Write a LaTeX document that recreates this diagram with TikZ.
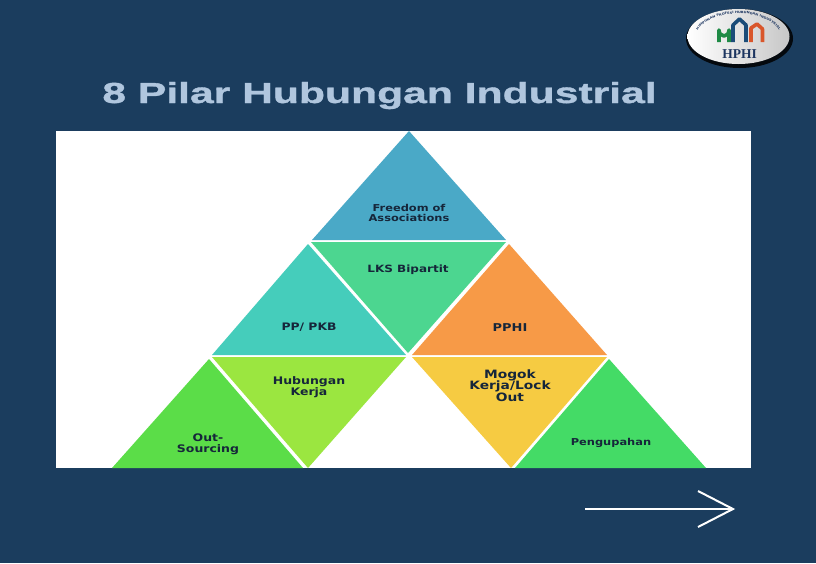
\documentclass[tikz,border=0pt]{standalone}
\usepackage{fontspec}
\setmainfont[FakeStretch=1.2]{DejaVu Sans}
\newfontfamily\titlefont[FakeStretch=1.47,BoldFeatures={FakeStretch=1.47,FakeBold=1.2}]{Liberation Sans}
\newfontfamily\logofont{Liberation Serif}
\usetikzlibrary{decorations.text,shadings}
\definecolor{bgnavy}{HTML}{1B3D5E}
\definecolor{titleblue}{HTML}{B0C6DE}
\definecolor{labelink}{HTML}{16263A}
\definecolor{cfreedom}{HTML}{4AA9C7}
\definecolor{clks}{HTML}{4CD690}
\definecolor{cpp}{HTML}{45CDBB}
\definecolor{cpphi}{HTML}{F79A47}
\definecolor{chub}{HTML}{9BE640}
\definecolor{cout}{HTML}{5BDD48}
\definecolor{cmogok}{HTML}{F6CB42}
\definecolor{cpeng}{HTML}{44DB66}
\definecolor{logogreen}{HTML}{1E8A45}
\definecolor{logoblue}{HTML}{1B4C78}
\definecolor{logoorange}{HTML}{D9562B}
\definecolor{logonavy}{HTML}{1C3560}
\tikzset{
  tri/.style={fill=#1,draw=none},
  lab/.style 2 args={font=\bfseries\fontsize{#1}{#2}\selectfont,text=labelink,align=center,inner sep=0pt},
  arch/.style={line width=3.6pt,line cap=butt,line join=round},
}
\begin{document}
\begin{tikzpicture}[x=1pt,y=-1pt]
\useasboundingbox (0,0) rectangle (816,563);
\fill[bgnavy] (0,0) rectangle (816,563);
% title
\node[font=\titlefont\bfseries\fontsize{29}{32}\selectfont,text=titleblue,inner sep=0pt,anchor=base] (title) at (379.5,103) {8 Pilar Hubungan Industrial};
% panel
\fill[white] (56,131) rectangle (751,468);
% triangles
\fill[tri=cfreedom] (409,131) -- (506,240) -- (312,240) -- cycle;
\fill[tri=clks] (311,242) -- (506,242) -- (408,353) -- cycle;
\fill[tri=cpp] (308,244) -- (406,355) -- (212,355) -- cycle;
\fill[tri=cpphi] (509,244) -- (607,355) -- (412,355) -- cycle;
\fill[tri=chub] (212,357) -- (406,357) -- (308,468) -- cycle;
\fill[tri=cout] (209,359) -- (303,468) -- (112,468) -- cycle;
\fill[tri=cmogok] (412,357) -- (607,357) -- (511,468) -- cycle;
\fill[tri=cpeng] (609,359) -- (706,468) -- (515,468) -- cycle;
% labels
\node[lab={9.5}{10}] (freedom) at (409,213) {Freedom of\\Associations};
\node[lab={10}{11}] (lks) at (408,270) {LKS Bipartit};
\node[lab={10.3}{11}] (pp) at (309,327.5) {PP/ PKB};
\node[lab={10.8}{11}] (pphi) at (510,327.5) {PPHI};
\node[lab={10.4}{11}] (hub) at (309,387) {Hubungan\\Kerja};
\node[lab={10.4}{11}] (outs) at (208,444) {Out-\\Sourcing};
\node[lab={11.5}{11.5}] (mogok) at (510,385.5) {Mogok\\Kerja/Lock\\Out};
\node[lab={9.5}{11}] (peng) at (611,442.5) {Pengupahan};
% arrow
\coordinate (arrowstart) at (585,509);
\coordinate (arrowtip) at (733,509);
\coordinate (arrowup) at (698,491);
\coordinate (arrowdown) at (698,527);
\draw[white,line width=2pt] (arrowstart) -- (arrowtip);
\draw[white,line width=2pt,line join=miter] (arrowup) -- (arrowtip) -- (arrowdown);
% logo
\fill[black!85!bgnavy] (739.5,38.5) ellipse [x radius=53.5,y radius=29.5];
\shade[left color=white,right color=black!22] (738.5,36.5) ellipse [x radius=51,y radius=27.5];
\path[postaction={decorate,decoration={text along path,text align=center,
  text={|\fontsize{3}{3.5}\selectfont\bfseries\color{logonavy}|HIMPUNAN PROFESI HUBUNGAN INDUSTRIAL}}}]
  (693,42) .. controls (698,4) and (779,4) .. (784,42);
\draw[arch,logogreen] (719,42) -- (719,30) arc[start angle=180,end angle=0,x radius=5,y radius=6] -- (729,42);
\draw[arch,logoblue] (733,42) -- (733,25) -- (739.5,19) -- (746,25) -- (746,42);
\draw[arch,logoorange] (751,42) -- (751,28) -- (757,24) -- (762.5,29) -- (762.5,42);
\node[font=\logofont\bfseries\fontsize{13.5}{14}\selectfont,text=logonavy,inner sep=0pt] (hphi) at (739.5,54.5) {HPHI};
\end{tikzpicture}
\end{document}
